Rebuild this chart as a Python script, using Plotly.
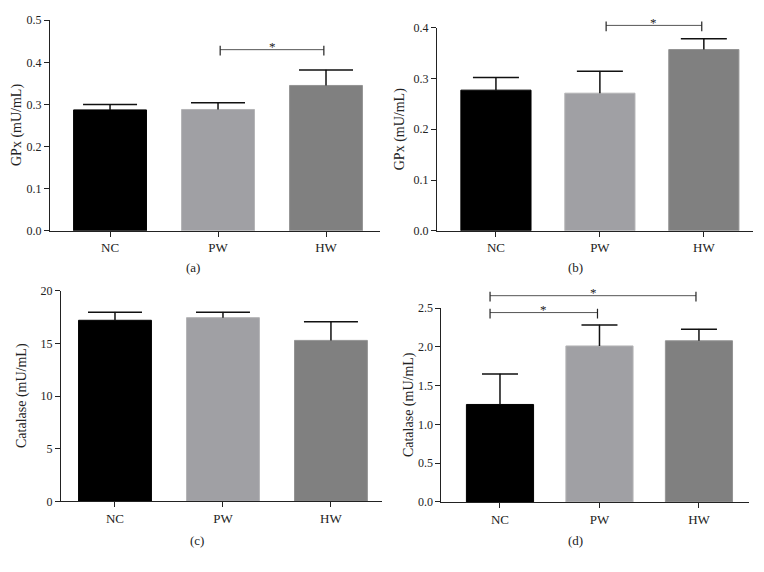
import plotly.graph_objects as go

# ---------------- data ----------------
categories = ["NC", "PW", "HW"]

gpx_a = [0.287, 0.288, 0.345]
gpx_a_err = [0.013, 0.016, 0.037]

gpx_b = [0.277, 0.271, 0.357]
gpx_b_err = [0.025, 0.043, 0.021]

catalase_c = [17.19, 17.44, 15.28]
catalase_c_err = [0.77, 0.52, 1.76]

catalase_d = [1.258, 2.013, 2.080]
catalase_d_err = [0.394, 0.272, 0.150]

# significance brackets: (from, to, level)
sig_a = [("PW", "HW", 0.430)]
sig_b = [("PW", "HW", 0.4045)]
sig_d = [("NC", "PW", 2.444), ("NC", "HW", 2.662)]

bar_colors = ["#000000", "#a0a0a4", "#808080"]
edge_colors = ["#000000", "#b4b4b6", "#949494"]

# the page body has an 8px default margin, so the figure is drawn at (8, 8)
OFF = 8
FW, FH = 764 - OFF, 572 - OFF
FONT = "Liberation Serif"
ERR_COLOR = "#111111"


def fx(px):
    return (px - OFF) / FW


def fy(py):
    return 1 - (py - OFF) / FH


panels = [
    dict(key="", y=gpx_a, err=gpx_a_err, ymax=0.5, dtick=0.1, fmt=".1f",
         xdom=[50, 380], ydom=[13.3, 229.3], xr=[-0.556, 2.5], capw=27,
         title="GPx (mU/mL)", tx=17.5, label="(a)", lx=193, ly=267,
         sig=sig_a, offs=[(0.02, -0.02)]),
    dict(key="2", y=gpx_b, err=gpx_b_err, ymax=0.4, dtick=0.1, fmt=".1f",
         xdom=[437, 752.7], ydom=[21, 229.3], xr=[-0.567, 2.47], capw=23,
         title="GPx (mU/mL)", tx=400, label="(b)", lx=575, ly=267,
         sig=sig_b, offs=[(0.06, -0.02)]),
    dict(key="3", y=catalase_c, err=catalase_c_err, ymax=20, dtick=5, fmt="d",
         xdom=[61, 381.7], ydom=[290.7, 506.7], xr=[-0.5, 2.47], capw=27,
         title="Catalase (mU/mL)", tx=22, label="(c)", lx=197, ly=546.7,
         sig=[], offs=[]),
    dict(key="4", y=catalase_d, err=catalase_d_err, ymax=2.5, dtick=0.5, fmt=".1f",
         xdom=[441.3, 748.7], ydom=[308.7, 507.3], xr=[-0.59, 2.5], capw=18,
         title="Catalase (mU/mL)", tx=409, label="(d)", lx=575, ly=546.7,
         sig=sig_d, offs=[(-0.1, -0.02), (-0.1, -0.03)]),
]

fig = go.Figure()
shapes = []
annotations = []
layout = {}

for p in panels:
    k = p["key"]
    xa, ya = "x" + k, "y" + k
    vals, errs = p["y"], p["err"]
    tops = [v + e for v, e in zip(vals, errs)]

    # bars
    fig.add_trace(go.Bar(
        x=categories, y=vals, xaxis=xa, yaxis=ya, width=0.675,
        marker=dict(color=bar_colors, line=dict(color=edge_colors, width=1)),
        showlegend=False, hoverinfo="skip"))

    # error-bar stems (upper half only, from bar top to mean + error)
    sx, sy = [], []
    for c, v, t in zip(categories, vals, tops):
        sx += [c, c, None]
        sy += [v, t, None]
    fig.add_trace(go.Scatter(
        x=sx, y=sy, xaxis=xa, yaxis=ya, mode="lines",
        line=dict(color=ERR_COLOR, width=1.5), connectgaps=False,
        showlegend=False, hoverinfo="skip"))

    # error-bar caps (zero-length error bars at mean + error)
    fig.add_trace(go.Scatter(
        x=categories, y=tops, xaxis=xa, yaxis=ya, mode="markers",
        marker=dict(size=1, color=ERR_COLOR),
        error_y=dict(type="data", array=[0] * len(tops), visible=True,
                     color=ERR_COLOR, thickness=1.5, width=p["capw"]),
        showlegend=False, hoverinfo="skip", cliponaxis=False))

    x0p, x1p = p["xdom"]
    y0p, y1p = p["ydom"]
    axis_common = dict(showline=True, linecolor="#222222", linewidth=1,
                       ticks="outside", ticklen=5, tickcolor="#222222", tickwidth=1,
                       showgrid=False, zeroline=False, fixedrange=True)
    layout["xaxis" + k] = dict(axis_common, domain=[fx(x0p), fx(x1p)],
                               anchor=ya, range=p["xr"], type="category",
                               categoryorder="array", categoryarray=categories,
                               tickfont=dict(family=FONT, size=13, color="#222222"))
    layout["yaxis" + k] = dict(axis_common, domain=[fy(y1p), fy(y0p)],
                               anchor=xa, range=[0, p["ymax"]], dtick=p["dtick"],
                               tick0=0, tickformat=p["fmt"],
                               tickfont=dict(family=FONT, size=12, color="#222222"))

    # axis title
    annotations.append(dict(
        xref="paper", yref="paper", x=fx(p["tx"]), y=fy((y0p + y1p) / 2),
        text=p["title"], textangle=-90, showarrow=False,
        font=dict(family=FONT, size=14, color="#222222"),
        xanchor="center", yanchor="middle"))
    # panel label
    annotations.append(dict(
        xref="paper", yref="paper", x=fx(p["lx"]), y=fy(p["ly"]),
        text=p["label"], showarrow=False,
        font=dict(family=FONT, size=13, color="#222222"),
        xanchor="center", yanchor="middle"))

    # significance brackets
    plot_h = y1p - y0p
    for (a, b, lvl), (oa, ob) in zip(p["sig"], p["offs"]):
        xa0 = categories.index(a) + oa
        xb0 = categories.index(b) + ob
        fyy = lvl / p["ymax"]
        up, dn = 4 / plot_h, 6 / plot_h
        shapes.append(dict(type="line", xref=xa, yref=ya + " domain",
                           x0=xa0, x1=xb0, y0=fyy, y1=fyy,
                           line=dict(color="#555555", width=1)))
        for xx in (xa0, xb0):
            shapes.append(dict(type="line", xref=xa, yref=ya + " domain",
                               x0=xx, x1=xx, y0=fyy - dn, y1=fyy + up,
                               line=dict(color="#222222", width=1.2)))
        annotations.append(dict(
            xref=xa, yref=ya + " domain", x=(xa0 + xb0) / 2, y=fyy,
            text="*", showarrow=False, yshift=3,
            font=dict(family=FONT, size=13, color="#222222"),
            xanchor="center", yanchor="middle"))

fig.update_layout(
    width=FW, height=FH, margin=dict(l=0, r=0, t=0, b=0),
    paper_bgcolor="white", plot_bgcolor="white",
    bargap=0.3,
    font=dict(family=FONT, color="#222222"),
    shapes=shapes, annotations=annotations,
    **layout)

fig.write_html("out.html")
